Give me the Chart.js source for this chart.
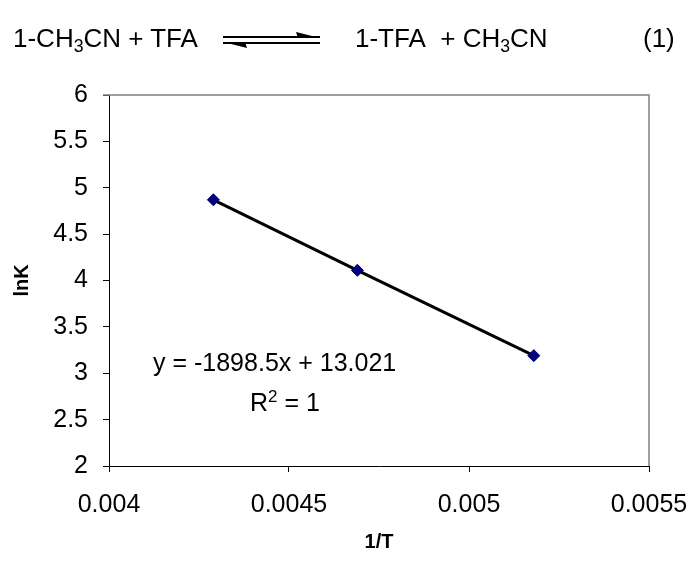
<!DOCTYPE html>
<html><head><meta charset="utf-8">
<script src="https://cdn.jsdelivr.net/npm/chart.js@4"></script>
<style>
body{margin:0;background:#fff;}
#wrap{position:relative;width:696px;height:563px;font-family:"Liberation Sans",Arial,sans-serif;color:#000;overflow:hidden;}
canvas{position:absolute;left:0;top:0;}
.t{position:absolute;white-space:nowrap;font-size:25px;line-height:30px;}
.h{font-size:26px;}
.t sub{font-size:0.68em;vertical-align:-0.3em;line-height:0;}
.t sup{font-size:0.68em;vertical-align:0.55em;line-height:0;}
svg{position:absolute;left:0;top:0;}
</style></head>
<body>
<div id="wrap">
  <canvas id="c" width="696" height="563"></canvas>
  <div class="t h" style="left:13px;top:23px;">1-CH<sub>3</sub>CN + TFA</div>
  <svg width="696" height="80">
    <line x1="223" y1="37" x2="320" y2="37" stroke="#000" stroke-width="2"/>
    <polygon points="320,38 298,38 296,32" fill="#000"/>
    <line x1="223" y1="43" x2="320" y2="43" stroke="#000" stroke-width="2"/>
    <polygon points="223,42 245,42 247,48" fill="#000"/>
  </svg>
  <div class="t h" style="left:355px;top:23px;">1-TFA&nbsp; + CH<sub>3</sub>CN</div>
  <div class="t h" style="left:643px;top:23px;">(1)</div>
  <div class="t" style="left:153px;top:347px;">y = -1898.5x + 13.021</div>
  <div class="t" style="left:250px;top:387px;">R<sup>2</sup> = 1</div>
</div>
<script>
const invT = [0.00429, 0.00469, 0.00518];
const lnK = [4.87, 4.11, 3.19];
const xTickVals = [0.004, 0.0045, 0.005, 0.0055];
const xTickLabels = ['0.004', '0.0045', '0.005', '0.0055'];
const yTickVals = [2, 2.5, 3, 3.5, 4, 4.5, 5, 5.5, 6];
const yTickLabels = ['2', '2.5', '3', '3.5', '4', '4.5', '5', '5.5', '6'];

const FONT = '"Liberation Sans", Arial, sans-serif';
const pts = invT.map((x, i) => ({x: x, y: lnK[i]}));

const frame = {
  id: 'frame',
  afterDraw(chart) {
    const a = chart.chartArea, ctx = chart.ctx;
    ctx.save();
    ctx.strokeStyle = '#808080';
    ctx.lineWidth = 1.5;
    ctx.beginPath();
    ctx.moveTo(a.left - 6, a.top);
    ctx.lineTo(a.right, a.top);
    ctx.lineTo(a.right, a.bottom);
    ctx.stroke();
    ctx.restore();
  }
};

new Chart(document.getElementById('c'), {
  type: 'scatter',
  data: {
    datasets: [
      {
        label: 'lnK',
        data: pts,
        pointStyle: 'rectRot',
        pointRadius: 6,
        pointHoverRadius: 6,
        backgroundColor: '#000080',
        borderColor: '#000060',
        borderWidth: 1,
        showLine: false
      },
      {
        label: 'Linear (lnK)',
        data: pts,
        showLine: true,
        borderColor: '#000',
        borderWidth: 3,
        pointRadius: 0,
        fill: false
      }
    ]
  },
  plugins: [frame],
  options: {
    responsive: false,
    animation: false,
    events: [],
    layout: {padding: {top: 95, right: 47, left: 0, bottom: 0}},
    plugins: {legend: {display: false}, tooltip: {enabled: false}},
    scales: {
      x: {
        type: 'linear',
        min: 0.004, max: 0.0055,
        afterBuildTicks(s) { s.ticks = xTickVals.map(v => ({value: v})); },
        afterFit(s) { s.height = 97; s.paddingLeft = 0; s.paddingRight = 0; },
        ticks: {
          callback: (v, i) => xTickLabels[i],
          font: {size: 25, family: FONT}, color: '#000', padding: 18,
          maxRotation: 0, autoSkip: false
        },
        grid: {drawOnChartArea: false, drawTicks: true, tickLength: 6, color: '#000'},
        border: {display: true, color: '#000', width: 1},
        title: {display: true, text: '1/T', color: '#000',
          font: {size: 20, weight: 'bold', family: FONT}, padding: {top: 0, bottom: 9}}
      },
      y: {
        type: 'linear',
        min: 2, max: 6,
        afterBuildTicks(s) { s.ticks = yTickVals.map(v => ({value: v})); },
        afterFit(s) { s.width = 109; s.paddingTop = 0; s.paddingBottom = 0; },
        ticks: {
          callback: (v, i) => yTickLabels[i],
          font: {size: 25, family: FONT}, color: '#000', padding: 15
        },
        grid: {drawOnChartArea: false, drawTicks: true, tickLength: 6, color: '#000'},
        border: {display: true, color: '#000', width: 1},
        title: {display: true, text: 'lnK', color: '#000',
          font: {size: 20, weight: 'bold', family: FONT}, padding: {top: 10, bottom: 0}}
      }
    }
  }
});
</script>
</body></html>
